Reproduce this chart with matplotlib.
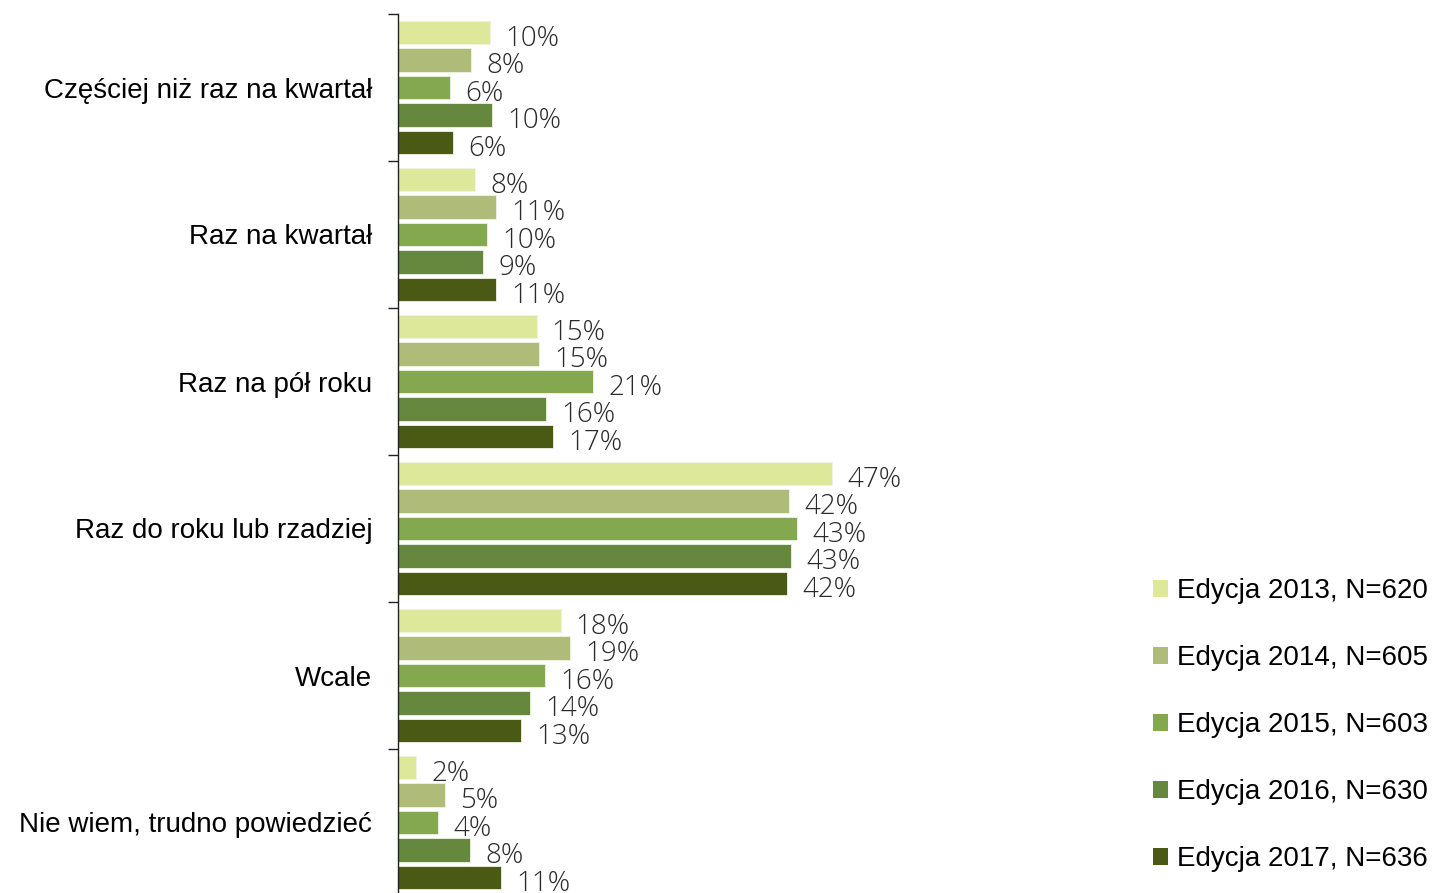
import matplotlib
matplotlib.use("Agg")
import matplotlib.pyplot as plt
from matplotlib.patches import Patch
import numpy as np

categories = ["Częściej niż raz na kwartał", "Raz na kwartał", "Raz na pół roku",
              "Raz do roku lub rzadziej", "Wcale", "Nie wiem, trudno powiedzieć"]
series_names = ["Edycja 2013, N=620", "Edycja 2014, N=605", "Edycja 2015, N=603",
                "Edycja 2016, N=630", "Edycja 2017, N=636"]
v2013 = [10.0, 8.3, 15.0, 47.0, 17.6, 1.95]
v2014 = [7.9, 10.6, 15.3, 42.4, 18.6, 5.1]
v2015 = [5.6, 9.6, 21.1, 43.2, 15.9, 4.3]
v2016 = [10.2, 9.2, 16.0, 42.6, 14.3, 7.8]
v2017 = [6.0, 10.6, 16.8, 42.1, 13.3, 11.2]
series = [v2013, v2014, v2015, v2016, v2017]
colors = ["#dee89b", "#afbb78", "#84a84f", "#66883e", "#4a5a14"]

fig = plt.figure(figsize=(14.35, 8.93), dpi=100)
ax = fig.add_axes([398/1435, -3/893, 554/1435, 882/893])

step = 0.187
height = 0.158
y = np.arange(len(categories))
for j, (vals, c) in enumerate(zip(series, colors)):
    pos = y + (j - 2) * step
    ax.barh(pos, vals, height=height, color=c, edgecolor="#f0f3e6", linewidth=0.6)
    for p, v in zip(pos, vals):
        ax.annotate(f"{round(v):.0f}%", xy=(v, p), xytext=(11, -4.5),
                    textcoords="offset points", ha="left", va="center",
                    fontsize=20, fontfamily="Open Sans", fontweight="light",
                    color="#2a2a2a")

ax.set_xlim(0, 60)
ax.set_ylim(len(categories) - 0.5, -0.5)
ax.set_yticks(np.arange(-0.5, len(categories) + 0.5, 1.0))
ax.set_yticklabels([])
ax.set_yticks(y, minor=True)
ax.set_yticklabels(categories, minor=True, fontsize=20, fontfamily="Liberation Sans",
                   color="black")
ax.tick_params(axis="y", which="major", length=7, width=1, direction="out", color="#222222")
ax.tick_params(axis="y", which="minor", length=0, pad=18.5)
ax.set_xticks([])
for s in ["top", "right", "bottom"]:
    ax.spines[s].set_visible(False)
ax.spines["left"].set_color("#222222")
ax.spines["left"].set_linewidth(1)

handles = [Patch(facecolor=c, edgecolor="none") for c in colors]
leg = fig.legend(handles, series_names, loc="upper left",
                 bbox_to_anchor=(1153/1435, 1 - 578/893),
                 frameon=False, labelspacing=1.48,
                 handlelength=0.55, handleheight=0.55, handletextpad=0.3,
                 borderaxespad=0, borderpad=0,
                 prop={"family": "Liberation Sans", "size": 20})

fig.savefig("out.png", dpi=100)
